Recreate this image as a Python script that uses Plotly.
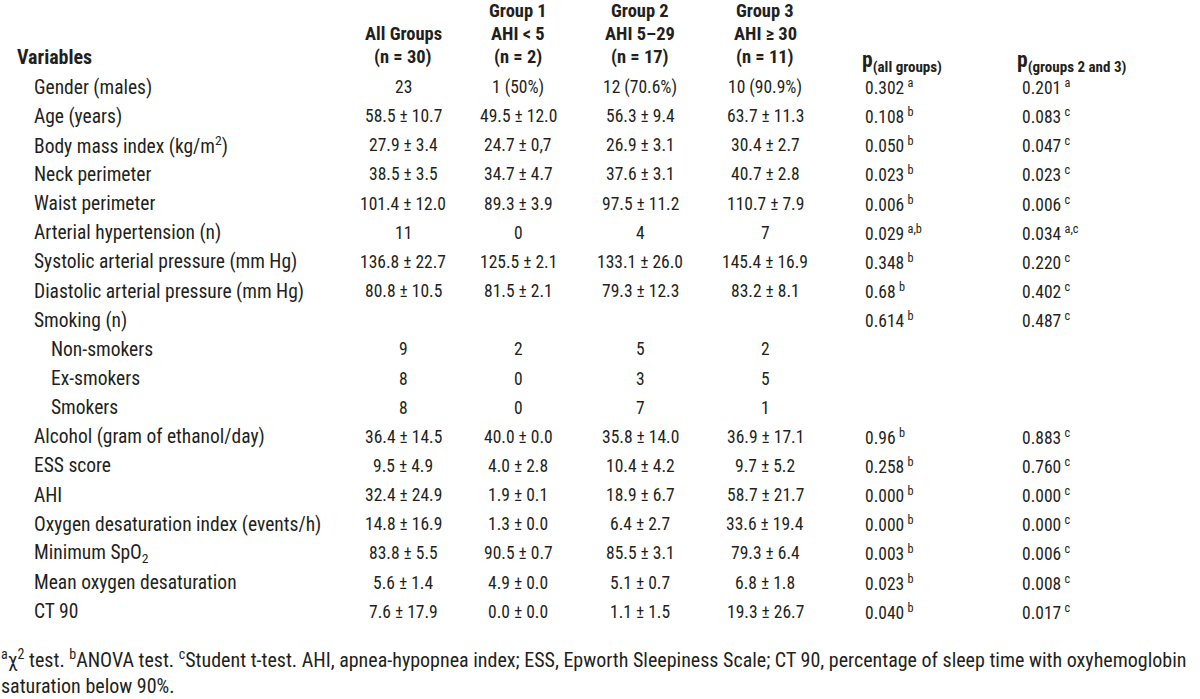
import plotly.graph_objects as go

# 表のデータ
variables = ["Gender (males)", "Age (years)", "Body mass index (kg/m<sup>2</sup>)", "Neck perimeter",
             "Waist perimeter", "Arterial hypertension (n)", "Systolic arterial pressure (mm Hg)",
             "Diastolic arterial pressure (mm Hg)", "Smoking (n)", "Non-smokers", "Ex-smokers", "Smokers",
             "Alcohol (gram of ethanol/day)", "ESS score", "AHI", "Oxygen desaturation index (events/h)",
             "Minimum SpO<sub>2</sub>", "Mean oxygen desaturation", "CT 90"]
indent = [0, 0, 0, 0, 0, 0, 0, 0, 0, 1, 1, 1, 0, 0, 0, 0, 0, 0, 0]

all_groups = ["23", "58.5 ± 10.7", "27.9 ± 3.4", "38.5 ± 3.5", "101.4 ± 12.0", "11", "136.8 ± 22.7",
              "80.8 ± 10.5", "", "9", "8", "8", "36.4 ± 14.5", "9.5 ± 4.9", "32.4 ± 24.9", "14.8 ± 16.9",
              "83.8 ± 5.5", "5.6 ± 1.4", "7.6 ± 17.9"]
group1 = ["1 (50%)", "49.5 ± 12.0", "24.7 ± 0,7", "34.7 ± 4.7", "89.3 ± 3.9", "0", "125.5 ± 2.1",
          "81.5 ± 2.1", "", "2", "0", "0", "40.0 ± 0.0", "4.0 ± 2.8", "1.9 ± 0.1", "1.3 ± 0.0",
          "90.5 ± 0.7", "4.9 ± 0.0", "0.0 ± 0.0"]
group2 = ["12 (70.6%)", "56.3 ± 9.4", "26.9 ± 3.1", "37.6 ± 3.1", "97.5 ± 11.2", "4", "133.1 ± 26.0",
          "79.3 ± 12.3", "", "5", "3", "7", "35.8 ± 14.0", "10.4 ± 4.2", "18.9 ± 6.7", "6.4 ± 2.7",
          "85.5 ± 3.1", "5.1 ± 0.7", "1.1 ± 1.5"]
group3 = ["10 (90.9%)", "63.7 ± 11.3", "30.4 ± 2.7", "40.7 ± 2.8", "110.7 ± 7.9", "7", "145.4 ± 16.9",
          "83.2 ± 8.1", "", "2", "5", "1", "36.9 ± 17.1", "9.7 ± 5.2", "58.7 ± 21.7", "33.6 ± 19.4",
          "79.3 ± 6.4", "6.8 ± 1.8", "19.3 ± 26.7"]
p_all = ["0.302", "0.108", "0.050", "0.023", "0.006", "0.029", "0.348", "0.68", "0.614", "", "", "",
         "0.96", "0.258", "0.000", "0.000", "0.003", "0.023", "0.040"]
p_all_test = ["a", "b", "b", "b", "b", "a,b", "b", "b", "b", "", "", "", "b", "b", "b", "b", "b", "b", "b"]
p_23 = ["0.201", "0.083", "0.047", "0.023", "0.006", "0.034", "0.220", "0.402", "0.487", "", "", "",
        "0.883", "0.760", "0.000", "0.000", "0.006", "0.008", "0.017"]
p_23_test = ["a", "c", "c", "c", "c", "a,c", "c", "c", "c", "", "", "", "c", "c", "c", "c", "c", "c", "c"]

headers = ["All Groups<br>(n = 30)", "Group 1<br>AHI < 5<br>(n = 2)", "Group 2<br>AHI 5–29<br>(n = 17)",
           "Group 3<br>AHI ≥ 30<br>(n = 11)"]
p_headers = ["p<sub>(all groups)</sub>", "p<sub>(groups 2 and 3)</sub>"]
footnote = ("<sup>a</sup>χ<sup>2</sup> test. <sup>b</sup>ANOVA test. <sup>c</sup>Student t-test. "
            "AHI, apnea-hypopnea index; ESS, Epworth Sleepiness Scale; CT 90, percentage of sleep time "
            "with oxyhemoglobin<br>saturation below 90%.")

FONT = "Roboto Condensed, Roboto, sans-serif"
COL = "#231f20"

row_y0 = 87
row_h = 29.15
head_y = [57, 33.5, 11]
col_x = [403, 518, 640, 765]
p_x = [865, 1022]
p_head_x = [862, 1017]

fig = go.Figure()
fig.add_trace(go.Scatter(x=[0, 1200], y=[0, 699], mode="markers", marker=dict(opacity=0),
                         hoverinfo="skip", showlegend=False))

def ann(x, y, text, size, xa="center", ya="middle"):
    fig.add_annotation(x=x, y=y, xref="x", yref="y", text=text, showarrow=False,
                       xanchor=xa, yanchor=ya, align="left" if xa == "left" else "center",
                       borderpad=0, borderwidth=0,
                       font=dict(family=FONT, size=size, color=COL))

# ヘッダー
ann(17, 57, "<b>Variables</b>", 20, xa="left")
for i, h in enumerate(headers):
    lines = h.split("<br>")[::-1]
    for k, line in enumerate(lines):
        ann(col_x[i], head_y[k], "<b>" + line + "</b>", 18.5)
for i, ph in enumerate(p_headers):
    ann(p_head_x[i], 61, "<b>" + ph + "</b>", 21.5, xa="left")

# 行
for r, v in enumerate(variables):
    y = row_y0 + r * row_h
    ann(34 + indent[r] * 17, y, v, 19.5, xa="left")
    for i, col in enumerate([all_groups, group1, group2, group3]):
        if col[r]:
            ann(col_x[i], y, col[r], 17.5)
    if p_all[r]:
        ann(p_x[0], y, p_all[r] + "\u2009<sup>" + p_all_test[r] + "</sup>", 17.5, xa="left")
    if p_23[r]:
        ann(p_x[1], y, p_23[r] + "\u2009<sup>" + p_23_test[r] + "</sup>", 17.5, xa="left")

# 脚注
ann(0.5, 672, footnote, 20, xa="left")

fig.update_xaxes(range=[0, 1200], visible=False, fixedrange=True)
fig.update_yaxes(range=[699, 0], visible=False, fixedrange=True)
fig.update_layout(width=1200, height=699, margin=dict(l=0, r=0, t=0, b=0),
                  plot_bgcolor="white", paper_bgcolor="white", showlegend=False)

# ページの余白をなくす
fig.write_html("out.html", config={"displayModeBar": False},
               post_script="document.body.style.margin='0';document.body.style.overflow='hidden';")
